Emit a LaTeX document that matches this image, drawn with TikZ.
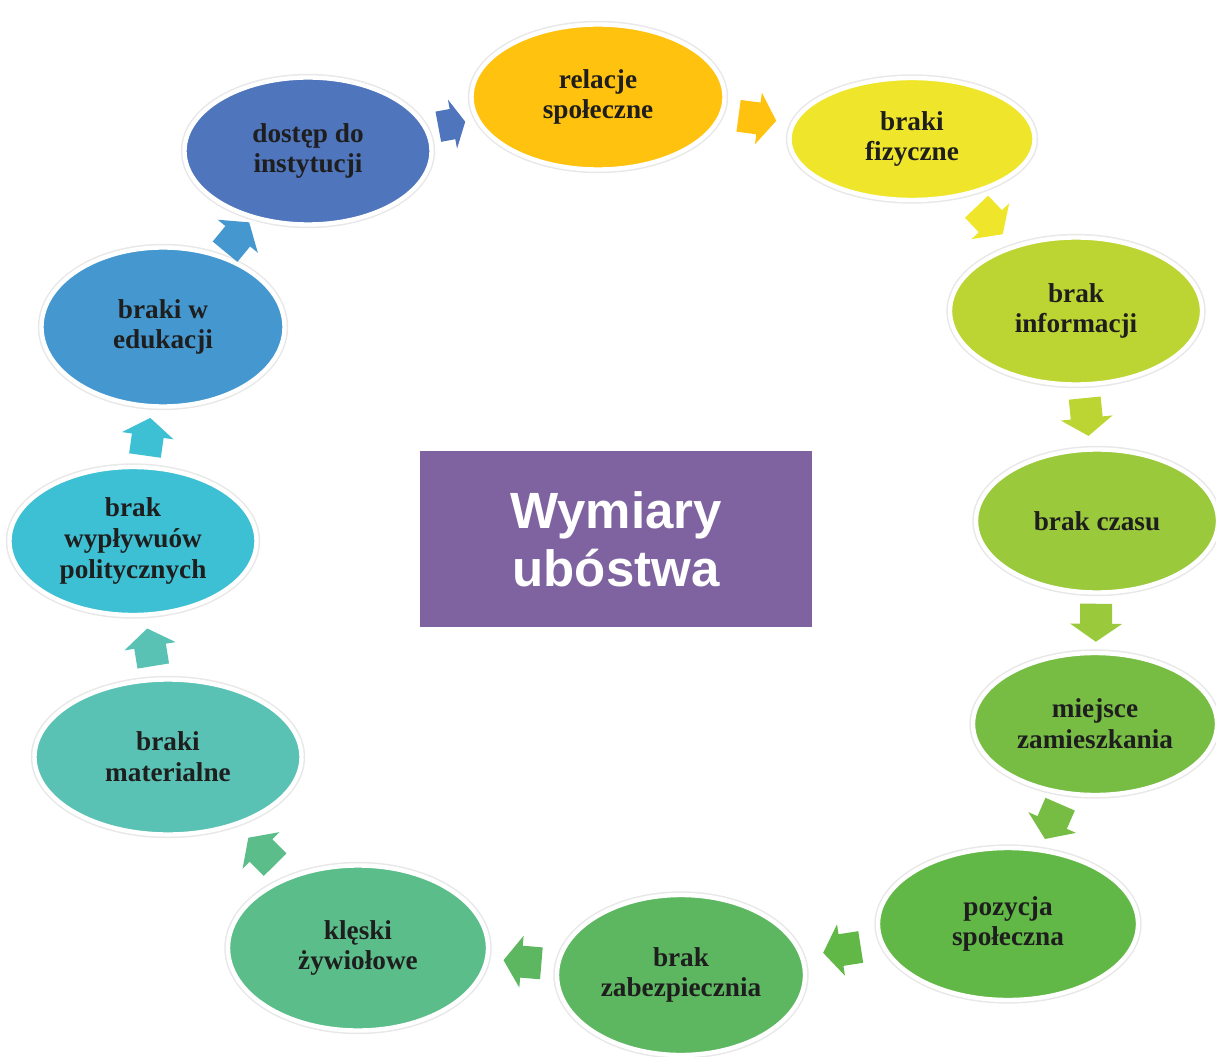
\documentclass[tikz,border=0pt]{standalone}
\usepackage{fontspec}
\setmainfont{Liberation Serif}
\newfontfamily\titlefont{Liberation Sans}
\usetikzlibrary{shapes.geometric,decorations.markings}
\definecolor{Rel}{HTML}{FFC20E}
\definecolor{Fiz}{HTML}{EFE62B}
\definecolor{Inf}{HTML}{BDD533}
\definecolor{Czas}{HTML}{9BC93C}
\definecolor{Miej}{HTML}{77BD43}
\definecolor{Poz}{HTML}{62B847}
\definecolor{Zab}{HTML}{5DB760}
\definecolor{Kle}{HTML}{5BBE8A}
\definecolor{Mat}{HTML}{5AC2B4}
\definecolor{Pol}{HTML}{3DC0D3}
\definecolor{Edu}{HTML}{4498CF}
\definecolor{Inst}{HTML}{4F75BC}
\definecolor{Wym}{HTML}{7F63A1}
\definecolor{Ink}{HTML}{1E1E1E}

\begin{document}
\begin{tikzpicture}[x=0.2mm,y=-0.2mm,
  dim/.style={ellipse,fill=#1,draw=white,line width=2.5pt,
    preaction={draw=black!9,line width=4.2pt},
    inner sep=0pt,align=center,text=Ink,
    font=\fontsize{15.5}{17.5}\selectfont\bfseries},
  flow/.style={postaction={decorate,decoration={markings,
    mark=at position 0.5 with {\fill[#1] (-0.38cm,-0.32cm) -- (0.02cm,-0.32cm)
      -- (0.02cm,-0.52cm) -- (0.38cm,0cm) -- (0.02cm,0.52cm)
      -- (0.02cm,0.32cm) -- (-0.38cm,0.32cm) -- cycle;}}}},
  wymbox/.style={rectangle,fill=Wym,text=white,align=center,
    minimum width=7.84cm,minimum height=3.52cm,
    font=\titlefont\fontsize{29}{33}\selectfont\bfseries}]
\useasboundingbox (0,0) rectangle (1216,1057);
% Centre
\node[wymbox] (wym) at (616,539) {Wymiary\\ubóstwa};
% Dimensions, clockwise from the top
\node[dim=Rel,minimum width=5.06cm,minimum height=2.9cm] (rel) at (598,97) {relacje\\społeczne};
\node[dim=Fiz,minimum width=4.9cm,minimum height=2.44cm] (fiz) at (912,139) {braki\\fizyczne};
\node[dim=Inf,minimum width=5.04cm,minimum height=2.94cm] (inf) at (1076,311) {brak\\informacji};
\node[dim=Czas,minimum width=4.84cm,minimum height=2.86cm] (czas) at (1097,521) {brak czasu};
\node[dim=Miej,minimum width=4.88cm,minimum height=2.84cm] (miej) at (1095,724) {miejsce\\zamieszkania};
\node[dim=Poz,minimum width=5.2cm,minimum height=3.04cm] (poz) at (1008,924) {pozycja\\społeczna};
\node[dim=Zab,minimum width=4.96cm,minimum height=3.2cm] (zab) at (681,975) {brak\\zabezpiecznia};
\node[dim=Kle,minimum width=5.2cm,minimum height=3.3cm] (kle) at (358,948) {klęski\\żywiołowe};
\node[dim=Mat,minimum width=5.34cm,minimum height=3.1cm] (mat) at (168,757) {braki\\materialne};
\node[dim=Pol,minimum width=4.94cm,minimum height=2.96cm] (pol) at (133,541) {brak\\wypływuów\\politycznych};
\node[dim=Edu,minimum width=4.86cm,minimum height=3.18cm] (edu) at (163,327) {braki w\\edukacji};
\node[dim=Inst,minimum width=4.94cm,minimum height=2.94cm] (inst) at (308,151) {dostęp do\\instytucji};
% Arrows between neighbours
\path[flow=Rel] (rel) -- (fiz);
\path[flow=Fiz] (fiz) -- (inf);
\path[flow=Inf] (inf) -- (czas);
\path[flow=Czas] (czas) -- (miej);
\path[flow=Miej] (miej) -- (poz);
\path[flow=Poz] (poz) -- (zab);
\path[flow=Zab] (zab) -- (kle);
\path[flow=Kle] (kle) -- (mat);
\path[flow=Mat] (mat) -- (pol);
\path[flow=Pol] (pol) -- (edu);
\path[flow=Edu] (edu) -- (inst);
\path[flow={Inst,xscale=0.72,yscale=0.96}] (inst) -- (rel);
\end{tikzpicture}
\end{document}
